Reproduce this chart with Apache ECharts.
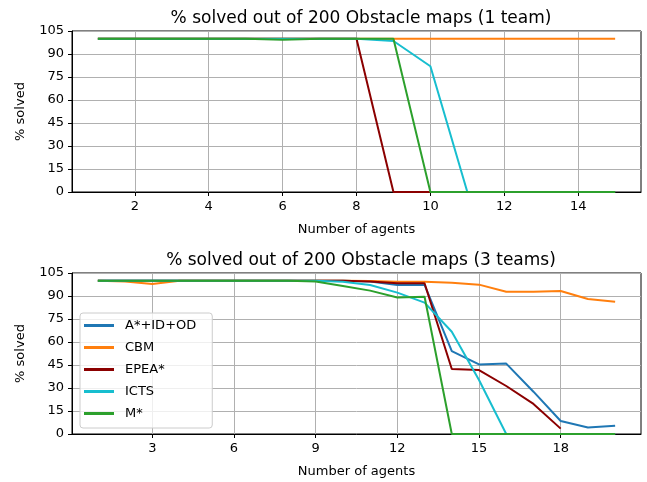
<!DOCTYPE html>
<html>
<head>
<meta charset="utf-8">
<script src="https://cdn.jsdelivr.net/npm/echarts@6/dist/echarts.min.js"></script>
<style>html,body{margin:0;padding:0;background:#fff}#c{width:647px;height:482px}</style>
</head>
<body>
<div id="c"></div>
<script>
// ---- Data ----
const names = ['A*+ID+OD', 'CBM', 'EPEA*', 'ICTS', 'M*'];
const colors = ['#1f77b4', '#ff7f0e', '#8b0000', '#17becf', '#2ca02c'];

// Top: 1 team, agents 1..15
const agents1 = [1,2,3,4,5,6,7,8,9,10,11,12,13,14,15];
const cbm1  = [100,100,100,100,100,100,100,100,100,100,100,100,100,100,100];
const epea1 = [100,100,100,100,100,100,100,100,0,0,0,0,0,0,0];
const icts1 = [100,100,100,100,100,100,100,100,98.5,82,0,0,0,0,0];
const mstar1= [100,100,100,100,100,99.3,100,100,100,0,0,0,0,0,0];
const xticks1 = [2,4,6,8,10,12,14];

// Bottom: 3 teams, agents 1..20
const agents3 = [1,2,3,4,5,6,7,8,9,10,11,12,13,14,15,16,17,18,19,20];
const astar3 = [100,100,100,100,100,100,100,100,100,100,99.4,97.2,97.2,54.1,45.4,45.9,27.6,8.5,4.3,5.4];
const cbm3   = [100,99.5,97.8,100,100,100,100,100,100,100,99.8,99.3,99.3,98.7,97.4,92.8,92.8,93.3,88,86.3];
const epea3  = [100,100,100,100,100,100,100,100,100,100,99.5,98.3,98.3,42.4,41.7,31.3,19.6,3.5];
const icts3  = [100,100,100,100,100,100,100,100,100,99.3,97.2,92.2,85.7,66.7,35.2,0,0,0,0,0];
const mstar3 = [100,100,100,100,100,100,100,100,99.5,96.5,93.5,89,89.5,0,0,0,0,0,0,0];
const xticks3 = [3,6,9,12,15,18];

// ---- Chart ----
const FONT = 'DejaVu Sans';
const pairs = (xs, ys) => ys.map((v, i) => [xs[i], v]);

function xAxis(idx, min, max, ticks) {
  return {
    type: 'value', gridIndex: idx, min: min, max: max,
    name: 'Number of agents', nameLocation: 'middle', nameGap: 31,
    nameTextStyle: {fontFamily: FONT, fontSize: 13, color: '#000', verticalAlign: 'top'},
    axisLine: {show: true, onZero: false, lineStyle: {color: '#000', width: 1}},
    axisTick: {show: true, length: 4, customValues: ticks, lineStyle: {color: '#000'}},
    axisLabel: {customValues: ticks, fontFamily: FONT, fontSize: 13, color: '#000', margin: 8},
    splitLine: {show: true, lineStyle: {color: '#b0b0b0', width: 1}}
  };
}
function yAxis(idx) {
  return {
    type: 'value', gridIndex: idx, min: 0, max: 105, interval: 15,
    name: '% solved', nameLocation: 'middle', nameGap: 45,
    nameTextStyle: {fontFamily: FONT, fontSize: 13, color: '#000'},
    axisLine: {show: true, lineStyle: {color: '#000', width: 1}},
    axisTick: {show: true, length: 4, lineStyle: {color: '#000'}},
    axisLabel: {fontFamily: FONT, fontSize: 13, color: '#000', margin: 8},
    splitLine: {show: true, lineStyle: {color: '#b0b0b0', width: 1}}
  };
}
function line(name, color, data, gi) {
  return {
    type: 'line', name: name, xAxisIndex: gi, yAxisIndex: gi, data: data,
    showSymbol: false, symbol: 'none', animation: false, silent: true,
    lineStyle: {color: color, width: 2}, itemStyle: {color: color}
  };
}

const series = [
  line('CBM', colors[1], pairs(agents1, cbm1), 0),
  line('EPEA*', colors[2], pairs(agents1, epea1), 0),
  line('ICTS', colors[3], pairs(agents1, icts1), 0),
  line('M*', colors[4], pairs(agents1, mstar1), 0),
  line('A*+ID+OD', colors[0], pairs(agents3, astar3), 1),
  line('CBM', colors[1], pairs(agents3, cbm3), 1),
  line('EPEA*', colors[2], pairs(agents3, epea3), 1),
  line('ICTS', colors[3], pairs(agents3, icts3), 1),
  line('M*', colors[4], pairs(agents3, mstar3), 1)
];

const chart = echarts.init(document.getElementById('c'), null, {renderer: 'canvas'});
chart.setOption({
  animation: false,
  backgroundColor: '#fff',
  title: [
    {text: '% solved out of 200 Obstacle maps (1 team)', left: 356, top: 5, textAlign: 'center',
     textStyle: {fontFamily: FONT, fontSize: 17, fontWeight: 'normal', color: '#000'}},
    {text: '% solved out of 200 Obstacle maps (3 teams)', left: 356, top: 247, textAlign: 'center',
     textStyle: {fontFamily: FONT, fontSize: 17, fontWeight: 'normal', color: '#000'}}
  ],
  grid: [
    {left: 72, right: 6, top: 31, height: 161, show: true, borderColor: '#000', borderWidth: 1, backgroundColor: 'transparent'},
    {left: 72, right: 6, top: 273, height: 161, show: true, borderColor: '#000', borderWidth: 1, backgroundColor: 'transparent'}
  ],
  xAxis: [xAxis(0, 0.3, 15.7, xticks1), xAxis(1, 0.05, 20.95, xticks3)],
  yAxis: [yAxis(0), yAxis(1)],
  legend: {
    data: names, orient: 'vertical', left: 80, top: 313,
    icon: 'rect', itemWidth: 30, itemHeight: 3, itemGap: 9,
    padding: [6, 16, 8, 4],
    backgroundColor: 'rgba(255,255,255,0.8)', borderColor: '#cccccc', borderWidth: 1, borderRadius: 3,
    textStyle: {fontFamily: FONT, fontSize: 13, color: '#000', padding: [0, 0, 0, 6]},
    selectedMode: false
  },
  series: series
});
</script>
</body>
</html>
